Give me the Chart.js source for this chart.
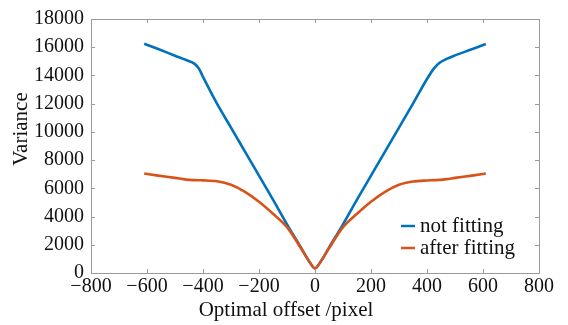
<!DOCTYPE html>
<html>
<head>
<meta charset="utf-8">
<script src="https://cdn.jsdelivr.net/npm/chart.js@4/dist/chart.umd.min.js"></script>
<style>
  html, body { margin: 0; padding: 0; background: #ffffff; }
  #wrap { width: 568px; height: 325px; position: relative; }
</style>
</head>
<body>
<div id="wrap"><canvas id="c" width="568" height="325"></canvas></div>
<script>
// ---- data ----
const offsets = [-610,-560,-500,-460,-430,-415,-400,-350,-300,-250,-200,-150,-100,-50,-20,0,20,50,100,150,200,250,300,350,400,425,445,470,500,560,610];
const notFitting = [16250,15870,15400,15090,14820,14500,13900,12000,10300,8600,6900,5200,3450,1800,800,320,800,1800,3450,5200,6900,8600,10300,12000,13750,14500,14900,15170,15420,15850,16230];
const afterFitting = [7050,6900,6740,6620,6580,6570,6565,6500,6250,5750,5050,4200,3250,1750,800,340,800,1750,3250,4200,5050,5750,6250,6480,6560,6580,6600,6650,6740,6900,7050];
const seriesNames = ["not fitting", "after fitting"];
const xTitle = "Optimal offset /pixel";
const yTitle = "Variance";
const xTicks = [-800,-600,-400,-200,0,200,400,600,800];
const yTicks = [0,2000,4000,6000,8000,10000,12000,14000,16000,18000];

const FONT = '"Liberation Serif", "Times New Roman", serif';
const TEXT = '#111111';

function toPoints(xs, ys) { return xs.map((x, i) => ({ x: x, y: ys[i] })); }

const framePlugin = {
  id: 'frame',
  afterDraw(chart) {
    const ctx = chart.ctx;
    const { left, right, top, bottom } = chart.chartArea;
    const xs = chart.scales.x, ys = chart.scales.y;
    ctx.save();
    ctx.strokeStyle = '#9a9a9a';
    ctx.lineWidth = 1;
    ctx.beginPath();
    ctx.rect(Math.round(left) + 0.5, Math.round(top) + 0.5, Math.round(right - left), Math.round(bottom - top));
    ctx.stroke();
    const tl = 4;
    ctx.beginPath();
    xTicks.forEach(v => {
      const px = Math.round(xs.getPixelForValue(v)) + 0.5;
      ctx.moveTo(px, bottom); ctx.lineTo(px, bottom - tl);
      ctx.moveTo(px, top); ctx.lineTo(px, top + tl);
    });
    yTicks.forEach(v => {
      const py = Math.round(ys.getPixelForValue(v)) + 0.5;
      ctx.moveTo(left, py); ctx.lineTo(left + tl, py);
      ctx.moveTo(right, py); ctx.lineTo(right - tl, py);
    });
    ctx.stroke();

    // axis titles
    ctx.fillStyle = TEXT;
    ctx.font = '21px ' + FONT;
    ctx.textAlign = 'center';
    ctx.textBaseline = 'middle';
    ctx.fillText(xTitle, 286, 310);
    ctx.save();
    ctx.translate(21, 129);
    ctx.rotate(-Math.PI / 2);
    ctx.fillText(yTitle, 0, 0);
    ctx.restore();

    // legend (inside, bottom-right)
    const lx = 401, ly = [226, 248];
    chart.data.datasets.forEach((ds, i) => {
      ctx.strokeStyle = ds.borderColor;
      ctx.lineWidth = 2.5;
      ctx.beginPath();
      ctx.moveTo(lx, ly[i]); ctx.lineTo(lx + 14, ly[i]);
      ctx.stroke();
      ctx.fillStyle = TEXT;
      ctx.font = '21px ' + FONT;
      ctx.textAlign = 'left';
      ctx.textBaseline = 'middle';
      ctx.fillText(ds.label, lx + 19, ly[i]);
    });
    ctx.restore();
  }
};

new Chart(document.getElementById('c'), {
  type: 'line',
  data: {
    datasets: [
      { label: seriesNames[0], data: toPoints(offsets, notFitting), borderColor: '#0072BD', backgroundColor: '#0072BD', borderWidth: 2.6, pointRadius: 0, cubicInterpolationMode: 'monotone', order: 1 },
      { label: seriesNames[1], data: toPoints(offsets, afterFitting), borderColor: '#D95319', backgroundColor: '#D95319', borderWidth: 2.6, pointRadius: 0, cubicInterpolationMode: 'monotone', order: 0 }
    ]
  },
  options: {
    responsive: false,
    animation: false,
    devicePixelRatio: 1,
    layout: { padding: { left: 0, right: 29, top: 13, bottom: 0 } },
    plugins: { legend: { display: false }, tooltip: { enabled: false }, title: { display: false } },
    scales: {
      x: {
        type: 'linear', min: -800, max: 800,
        afterBuildTicks: s => { s.ticks = xTicks.map(v => ({ value: v })); },
        afterFit: s => { s.height = 52; },
        grid: { display: false, drawTicks: false },
        border: { display: false },
        ticks: {
          padding: 2, color: TEXT, maxRotation: 0, autoSkip: false,
          font: { family: FONT, size: 20 },
          callback: v => (v < 0 ? '\u2212' + Math.abs(v) : String(v))
        }
      },
      y: {
        type: 'linear', min: 0, max: 18000,
        afterBuildTicks: s => { s.ticks = yTicks.map(v => ({ value: v })); },
        afterFit: s => { s.width = 91; },
        grid: { display: false, drawTicks: false },
        border: { display: false },
        ticks: {
          padding: 7, color: TEXT, autoSkip: false,
          font: { family: FONT, size: 20 },
          callback: v => String(v)
        }
      }
    }
  },
  plugins: [framePlugin]
});
</script>
</body>
</html>
